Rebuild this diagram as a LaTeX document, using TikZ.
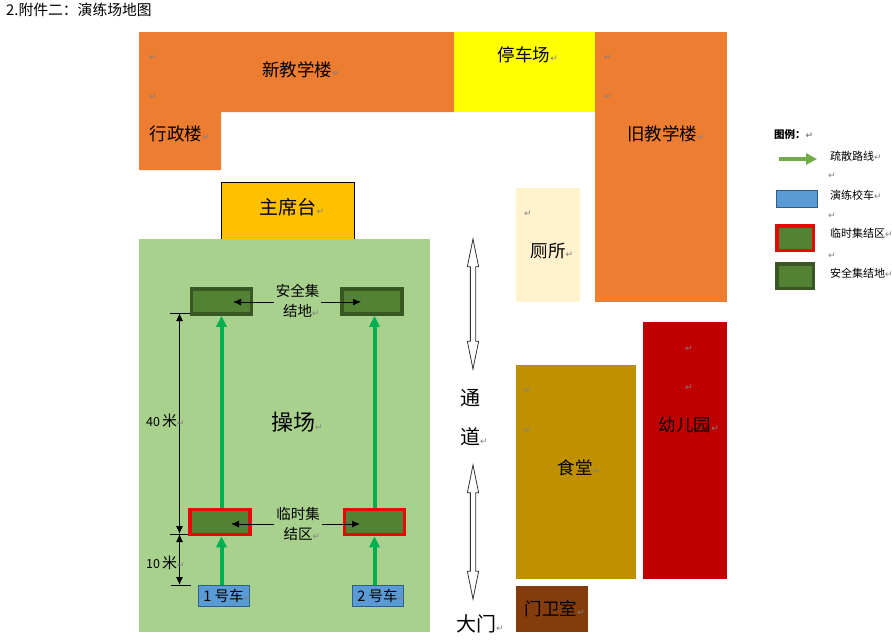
\documentclass[tikz,border=0pt]{standalone}
\usepackage{fontspec}
\setmainfont{Noto Sans CJK SC}
\newfontfamily\markfont{DejaVu Sans}
\usetikzlibrary{arrows.meta,shapes}

\newcommand{\rmk}{\rlap{\markfont\fontsize{9}{9}\selectfont\textcolor{gray}{↵}}}

\definecolor{orangeb}{HTML}{ED7D31}
\definecolor{parkc}{HTML}{FFFF00}
\definecolor{fieldgreen}{HTML}{A9D18E}
\definecolor{boxgreen}{HTML}{548235}
\definecolor{safedark}{HTML}{385723}
\definecolor{tempred}{HTML}{E80808}
\definecolor{routegreen}{HTML}{00B050}
\definecolor{carblue}{HTML}{5B9BD5}
\definecolor{cardark}{HTML}{2E5F8A}
\definecolor{toiletc}{HTML}{FFF2CC}
\definecolor{canteenc}{HTML}{BF9000}
\definecolor{kinderc}{HTML}{C00000}
\definecolor{gatec}{HTML}{843C0C}
\definecolor{stagec}{HTML}{FFC000}
\definecolor{legendarrow}{HTML}{70AD47}

\tikzset{
  label/.style={inner sep=2pt, align=center, font=\fontsize{17.5}{20}\selectfont},
  small/.style={inner sep=2pt, align=center, font=\fontsize{14.5}{20}\selectfont},
  legendtext/.style={inner sep=0pt, anchor=west, font=\fontsize{11}{12}\selectfont},
  pmark/.style={inner sep=0pt, font=\fontsize{9}{9}\selectfont},
  dimtext/.style={inner sep=0pt, anchor=west, font=\fontsize{15}{16}\selectfont},
  safebox/.style={draw=safedark, fill=boxgreen, line width=3.5pt, minimum width=60pt, minimum height=25pt, inner sep=0pt, outer sep=1.75pt},
  tempbox/.style={draw=tempred, fill=boxgreen, line width=3.5pt, minimum width=60pt, minimum height=25pt, inner sep=0pt, outer sep=1.75pt},
  carbox/.style={draw=cardark, fill=carblue, line width=0.8pt, minimum width=51pt, minimum height=21pt, inner sep=0pt, font=\fontsize{14.5}{16}\selectfont},
  route/.style={draw=routegreen, line width=4pt, -{Triangle[width=10pt,length=11pt]}},
  pointer/.style={line width=0.9pt, -{Latex[width=7pt,length=8pt]}},
  measure/.style={line width=0.9pt, {Latex[width=7pt,length=8pt]}-{Latex[width=7pt,length=8pt]}},
  tick/.style={line width=0.9pt},
  passage/.style={double arrow, draw=black!80, fill=white, line width=0.8pt, rotate=90, inner sep=0pt, inner ysep=2.25pt, double arrow head extend=3pt, double arrow tip angle=23},
}

\begin{document}
\begin{tikzpicture}[x=1pt, y=-1pt]
\useasboundingbox (0,0) rectangle (892,643);

% buildings
\fill[orangeb] (139,32) -- (454,32) -- (454,112) -- (221,112) -- (221,170) -- (139,170) -- cycle;
\fill[parkc] (454,32) rectangle (595,112);
\fill[orangeb] (595,32) rectangle (727,302);
\draw[fill=stagec, line width=0.5pt] (221,182) rectangle (354,239);
\fill[fieldgreen] (139,239) rectangle (430,632);
\fill[toiletc] (516,188) rectangle (580,302);
\fill[canteenc] (516,365) rectangle (636,579);
\fill[kinderc] (643,322) rectangle (727,579);
\fill[gatec] (516,586) rectangle (588,632);

\node[inner sep=0pt, anchor=west, font=\fontsize{14.8}{16}\selectfont] (title) at (6,10) {2.附件二：演练场地图};

\node[label] (newbuild) at (297,70) {新教学楼\rmk};
\node[label] (parking) at (524,55) {停车场\rmk};
\node[label] (admin) at (176,134) {行政楼\rmk};
\node[label] (oldbuild) at (662,134) {旧教学楼\rmk};
\node[label, font=\fontsize{19}{20}\selectfont] (stage) at (288,207) {主席台\rmk};
\node[label] (toilet) at (548,251) {厕所\rmk};
\node[label, font=\fontsize{22}{24}\selectfont] (field) at (293,422) {操场\rmk};
\node[label] (canteen) at (575,468) {食堂\rmk};
\node[label] (kinder) at (685,425) {幼儿园\rmk};
\node[label] (gateroom) at (551,609) {门卫室\rmk};
\node[label, font=\fontsize{20}{24}\selectfont] (way1) at (470,398) {通};
\node[label, font=\fontsize{20}{24}\selectfont] (way2) at (470,437) {道\rmk};
\node[label, font=\fontsize{20}{24}\selectfont] (gate) at (476,624) {大门\rmk};

% empty paragraph marks
\foreach \mx/\my in {153/58,153/97,608/58,608/97,528/214,528/391,528/431,689/349,689/388,832/176,832/216,832/256}
  \node[pmark] at (\mx,\my) {\markfont\textcolor{gray}{↵}};

% passage arrows
\node[passage, minimum height=130pt] (passtop) at (473,304) {};
\node[passage, minimum height=134pt] (passbot) at (473,532) {};

% gathering boxes and cars
\node[safebox] (safea) at (221.5,301.5) {};
\node[safebox] (safeb) at (372,301.5) {};
\node[tempbox] (tempa) at (220,522) {};
\node[tempbox] (tempb) at (374.5,522) {};
\node[carbox] (cara) at (223.5,595.5) {1 号车\rmk};
\node[carbox] (carb) at (377.5,595.5) {2 号车\rmk};

\draw[route] (cara.north -| safea) -- (tempa.south -| safea);
\draw[route] (carb.north -| tempb) -- (tempb.south);
\draw[route] (tempa.north -| safea) -- (safea.south);
\draw[route] (tempb.north) -- (tempb.north |- safeb.south);

\node[small] (safelabel) at (297.5,301) {安全集\\结地\rmk};
\node[small] (templabel) at (298,524) {临时集\\结区\rmk};

\coordinate (safeleft) at (233,302);
\coordinate (saferight) at (361,302);
\coordinate (templeft) at (231,524);
\coordinate (tempright) at (360,524);
\draw[pointer] (safelabel.west |- safeleft) -- (safeleft);
\draw[pointer] (safelabel.east |- saferight) -- (saferight);
\draw[pointer] (templabel.west |- templeft) -- (templeft);
\draw[pointer] (templabel.east |- tempright) -- (tempright);

% measures
\coordinate (tickA) at (170,313);
\coordinate (tickAr) at (190,313);
\coordinate (tickB) at (170,534);
\coordinate (tickBr) at (188,534);
\coordinate (tickC) at (171,585);
\coordinate (tickCr) at (191,585);
\coordinate (dimA) at (179.5,313);
\coordinate (dimB) at (179.5,534);
\coordinate (dimC) at (179.5,585);
\draw[tick] (tickA) -- (tickAr);
\draw[tick] (tickB) -- (tickBr);
\draw[tick] (tickC) -- (tickCr);
\draw[measure] (dimA) -- (dimB);
\draw[measure] (dimB) -- (dimC);
\node[dimtext] (forty) at (146,421) {{\fontsize{12.5}{14}\selectfont 40\,}米\rmk};
\node[dimtext] (ten) at (146,563) {{\fontsize{12.5}{14}\selectfont 10\,}米\rmk};

% legend
\node[legendtext, font=\bfseries\fontsize{10.5}{12}\selectfont] (legendhead) at (774,135) {图例：\rmk};
\coordinate (legstart) at (779,159);
\coordinate (legend) at (817,159);
\draw[draw=legendarrow, line width=3.5pt, -{Triangle[width=11pt,length=11pt]}] (legstart) -- (legend);
\node[legendtext] (legroute) at (830,156) {疏散路线\rmk};
\node[draw=cardark, fill=carblue, line width=0.8pt, minimum width=41pt, minimum height=17pt, inner sep=0pt] (legcar) at (796.5,198.5) {};
\node[legendtext] (legcartext) at (830,195) {演练校车\rmk};
\node[tempbox, minimum width=36.5pt, minimum height=24.5pt] (legtemp) at (795,238) {};
\node[legendtext] (legtemptext) at (830,233) {临时集结区\rmk};
\node[safebox, minimum width=36.5pt, minimum height=24.5pt] (legsafe) at (795,276) {};
\node[legendtext] (legsafetext) at (830,273) {安全集结地\rmk};

\end{tikzpicture}
\end{document}
